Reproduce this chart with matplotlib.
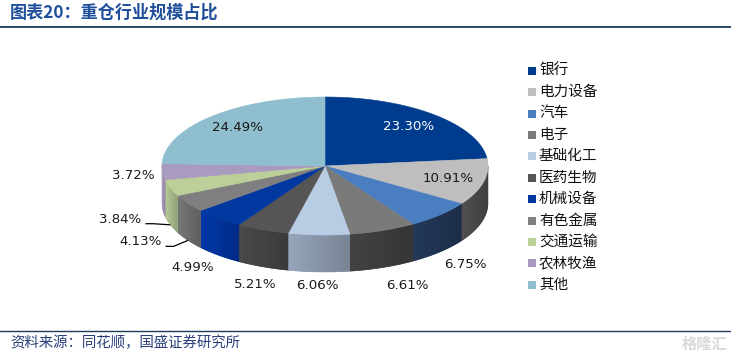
import numpy as np
import matplotlib
matplotlib.use("Agg")
import matplotlib.pyplot as plt
from matplotlib.patches import Polygon, Rectangle
from matplotlib.colors import to_rgb

plt.rcParams['font.family'] = ['Noto Sans CJK SC', 'DejaVu Sans']

# ---- data ----
categories = ['银行', '电力设备', '汽车', '电子', '基础化工', '医药生物',
              '机械设备', '有色金属', '交通运输', '农林牧渔', '其他']
values = [23.30, 10.91, 6.75, 6.61, 6.06, 5.21, 4.99, 4.13, 3.84, 3.72, 24.49]
value_labels = ['23.30%', '10.91%', '6.75%', '6.61%', '6.06%', '5.21%',
                '4.99%', '4.13%', '3.84%', '3.72%', '24.49%']

# ---- styles ----
top_colors = ['#003C8E', '#BEBEBE', '#4A7EC0', '#7A7A7A', '#B8CCE4', '#555555',
              '#0038A0', '#7F7F7F', '#BCCF98', '#A99BC0', '#8FBFCF']
wall_colors = ['#002E70', '#4A4A4A', '#213553', '#3E3E3E', '#8C9AAE', '#444444',
               '#00339C', '#6E6E6E', '#A9BB8C', '#A090B5', '#7FAFBF']
label_inside = [True, True, False, False, False, False, False, False, False, False, True]
label_colors = ['white'] + ['#1a1a1a'] * 10
# nudges (pixels) from the default outside label position
nudges = [(0, 0), (0, 0), (3, 3), (13, 5), (0, 0), (5, 5), (-5, 2), (-20, -6),
          (-19, -10), (3, -35), (0, 0)]
leader = [False] * 7 + [True, True] + [False, False]

W, H = 731, 357
fig = plt.figure(figsize=(W / 100, H / 100), dpi=100)
ax = fig.add_axes([0, 0, 1, 1])
ax.set_xlim(0, W)
ax.set_ylim(H, 0)
ax.axis('off')

cx, cy, a, b, depth = 325.0, 166.0, 163.0, 69.0, 37.0


def pt(theta_deg, r=1.0, dz=0.0):
    t = np.radians(theta_deg)
    return cx + a * r * np.sin(t), cy - b * r * np.cos(t) + dz


vals = np.array(values, dtype=float)
frac = vals / vals.sum()
edges = np.concatenate([[0.0], np.cumsum(frac) * 360.0])

# walls (front half only: 90..270 degrees clockwise from top)
for i in range(len(vals)):
    t1, t2 = max(edges[i], 90.0), min(edges[i + 1], 270.0)
    if t2 <= t1:
        continue
    ts = np.linspace(t1, t2, 60)
    top = [pt(t) for t in ts]
    bot = [pt(t, dz=depth) for t in ts[::-1]]
    poly = Polygon(top + bot, closed=True, facecolor=wall_colors[i],
                   edgecolor=wall_colors[i], lw=0.4, zorder=2)
    ax.add_patch(poly)
    # subtle horizontal gradient: darker to the right
    xs = [p[0] for p in top]
    x0, x1 = min(xs), max(xs)
    base = np.array(to_rgb(wall_colors[i]))
    n = 64
    fac = np.linspace(1.08, 0.86, n)
    img = np.clip(base[None, None, :] * fac[None, :, None], 0, 1)
    ys = [p[1] for p in top] + [p[1] for p in bot]
    im = ax.imshow(img, extent=(x0, x1, max(ys), min(ys)), aspect='auto',
                   zorder=2.5, interpolation='bilinear')
    im.set_clip_path(poly)

# top faces
for i in range(len(vals)):
    ts = np.linspace(edges[i], edges[i + 1], 120)
    verts = [(cx, cy)] + [pt(t) for t in ts]
    ax.add_patch(Polygon(verts, closed=True, facecolor=top_colors[i],
                         edgecolor=top_colors[i], lw=0.4, zorder=3))

# value labels
for i in range(len(vals)):
    mid = (edges[i] + edges[i + 1]) / 2
    if label_inside[i]:
        r = 0.77 if i != 1 else 0.78
        x, y = pt(mid, r=r)
    else:
        x, y = pt(mid, r=1.2, dz=depth)
        x += nudges[i][0]
        y += nudges[i][1]
    ax.text(x, y, value_labels[i], ha='center', va='center', fontsize=9.6,
            color=label_colors[i], family='DejaVu Sans', zorder=5)
    if leader[i]:
        ex, ey = pt(mid, dz=depth)
        sx, sy = x + 25, y + 4.5
        ax.plot([sx, sx + 8, ex], [sy, sy, ey], color='black', lw=0.9,
                zorder=4, solid_capstyle='butt')

# legend
for k, name in enumerate(categories):
    yy = 70.7 + k * 21.4
    ax.add_patch(Rectangle((527.5, yy - 4), 8, 8, facecolor=top_colors[k],
                           edgecolor='none', zorder=5))
    ax.text(539, yy, name, ha='left', va='center', fontsize=10.5,
            color='#111111', zorder=5)

# title, rules, source
ax.text(10, 12.5, '图表20：重仓行业规模占比', ha='left', va='center',
        fontsize=12.3, fontweight='bold', color='#1F4E9B')
ax.plot([0, W], [26.5, 26.5], color='#1F3B5C', lw=1.3)
ax.plot([0, W], [331, 331], color='#1F3B5C', lw=1.0)
ax.text(10, 343, '资料来源：同花顺，国盛证券研究所', ha='left', va='center',
        fontsize=10.4, color='#2A3F7A')
ax.text(727, 344, '格隆汇', ha='right', va='center', fontsize=11,
        color='#D8D8D8', fontweight='bold')

fig.savefig('out.png', dpi=100)
